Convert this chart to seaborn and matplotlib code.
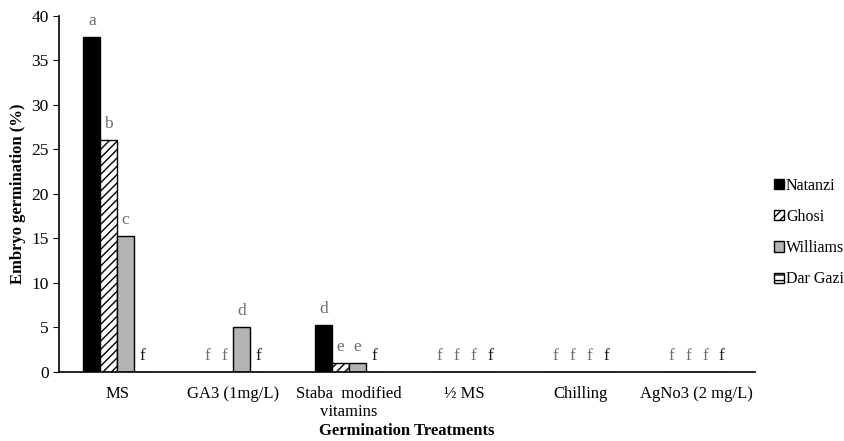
import numpy as np
import pandas as pd
import matplotlib.pyplot as plt
import seaborn as sns

treatments = ['MS', 'GA3 (1mg/L)', 'Staba  modified\nvitamins', '½ MS', 'Chilling', 'AgNo3 (2 mg/L)']
cultivars = ['Natanzi', 'Ghosi', 'Williams', 'Dar Gazi']

natanzi = [37.6, 0, 5.2, 0, 0, 0]
ghosi = [26.1, 0, 1.0, 0, 0, 0]
williams = [15.3, 5.0, 1.0, 0, 0, 0]
dar_gazi = [0, 0, 0, 0, 0, 0]

letters_natanzi = ['a', 'f', 'd', 'f', 'f', 'f']
letters_ghosi = ['b', 'f', 'e', 'f', 'f', 'f']
letters_williams = ['c', 'd', 'e', 'f', 'f', 'f']
letters_dar_gazi = ['f', 'f', 'f', 'f', 'f', 'f']

values = [natanzi, ghosi, williams, dar_gazi]
letters = [letters_natanzi, letters_ghosi, letters_williams, letters_dar_gazi]

df = pd.DataFrame({
    'Treatment': np.repeat([treatments], 4, axis=0).ravel(),
    'Cultivar': np.repeat(cultivars, len(treatments)),
    'Germination': np.concatenate(values),
})

plt.rcParams['font.family'] = ['Liberation Serif', 'DejaVu Serif']

fig = plt.figure(figsize=(8.44, 4.41), dpi=100)
ax = fig.add_axes([0.07, 0.157, 0.824, 0.807])

faces = ['black', 'white', '#b3b3b3', 'white']
hatches = [None, '////', None, '---']

sns.barplot(data=df, x='Treatment', y='Germination', hue='Cultivar',
            order=treatments, hue_order=cultivars, palette=faces,
            width=0.58, edgecolor='black', linewidth=1.0, ax=ax,
            legend=False, errorbar=None, saturation=1)

for cont, h, fc in zip(ax.containers, hatches, faces):
    for p in cont:
        p.set_facecolor(fc)
        p.set_edgecolor('black')
        if h:
            p.set_hatch(h)

# significance letters above each bar
for cont, labs, i in zip(ax.containers, letters, range(4)):
    for p, lab, v in zip(cont, labs, values[i]):
        cx = p.get_x() + p.get_width() / 2
        col = '#1a1a1a' if i == 3 else '#6e6e6e'
        ax.text(cx, v + 0.9, lab, ha='center', va='bottom', fontsize=12.5, color=col)

ax.set_ylim(0, 40)
ax.set_yticks(range(0, 41, 5))
ax.set_xlim(-0.5, len(treatments) - 0.5)
ax.tick_params(axis='y', labelsize=12.5, length=4, direction='out')
ax.tick_params(axis='x', labelsize=12, length=0, pad=10)
ax.set_ylabel('Embryo germination (%)', fontsize=12, fontweight='bold', labelpad=4)
ax.set_xlabel('Germination Treatments', fontsize=12, fontweight='bold', labelpad=2)
sns.despine(ax=ax)
ax.spines['left'].set_linewidth(1.2)
ax.spines['bottom'].set_linewidth(1.2)

handles = [cont.patches[0] for cont in ax.containers]
fig.legend(handles, cultivars, loc='upper left', bbox_to_anchor=(0.917, 0.597),
           frameon=False, fontsize=11.5, handlelength=0.6, handleheight=0.6,
           handletextpad=0.15, labelspacing=0.95, borderaxespad=0, borderpad=0)

fig.savefig('out.png', dpi=100)
